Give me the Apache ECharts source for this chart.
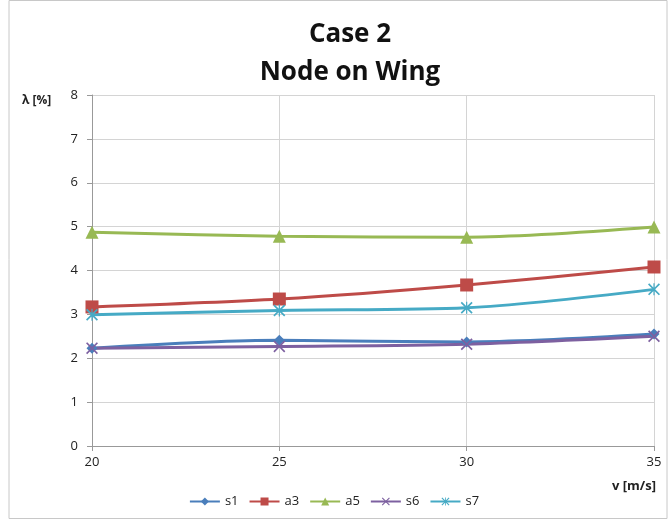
<!DOCTYPE html>
<html>
<head>
<meta charset="utf-8">
<script src="https://cdn.jsdelivr.net/npm/echarts@6/dist/echarts.min.js"></script>
<style>
  html, body { margin: 0; padding: 0; background: #fff; }
  #main { width: 668px; height: 524px; }
</style>
</head>
<body>
<div id="main"></div>
<script>
// data
var speeds = [20, 25, 30, 35];
var s1 = [2.23, 2.41, 2.37, 2.55];
var a3 = [3.17, 3.35, 3.67, 4.08];
var a5 = [4.87, 4.78, 4.76, 4.99];
var s6 = [2.23, 2.27, 2.32, 2.50];
var s7 = [2.99, 3.09, 3.15, 3.57];
var seriesNames = ['s1', 'a3', 'a5', 's6', 's7'];

var xMark = 'path://M1,0L5,4L9,0L10,1L6,5L10,9L9,10L5,6L1,10L0,9L4,5L0,1Z';
var starMark = 'path://M1,0L5,4L9,0L10,1L6,5L10,9L9,10L5,6L1,10L0,9L4,5L0,1Z M4.5,0L5.5,0L5.5,10L4.5,10Z';

function pairs(vals) {
  return speeds.map(function (v, i) { return [v, vals[i]]; });
}

function mk(name, vals, color, symbol, size) {
  return {
    name: name,
    type: 'line',
    smooth: 0.3,
    data: pairs(vals),
    symbol: symbol,
    symbolSize: size,
    showSymbol: true,
    lineStyle: { color: color, width: 3 },
    itemStyle: { color: color },
    emphasis: { disabled: true }
  };
}

var chart = echarts.init(document.getElementById('main'));
var font = 'Open Sans, Liberation Sans, sans-serif';

var option = {
  animation: false,
  textStyle: { fontFamily: font },
  title: {
    text: 'Case 2\nNode on Wing',
    left: 345,
    textAlign: 'center',
    top: 11,
    textStyle: { fontSize: 26, fontWeight: 'bold', color: '#111', lineHeight: 38, fontFamily: font }
  },
  legend: {
    bottom: 11,
    left: 'center',
    itemWidth: 30,
    itemHeight: 10,
    itemGap: 10,
    textStyle: { fontSize: 13, color: '#222' },
    data: seriesNames
  },
  grid: { left: 92, right: 14, top: 95, bottom: 78 },
  xAxis: {
    type: 'value',
    min: 20, max: 35, interval: 5,
    axisLine: { lineStyle: { color: '#999' } },
    axisTick: { show: true, length: 5, lineStyle: { color: '#999' } },
    axisLabel: { color: '#222', fontSize: 13, margin: 10 },
    splitLine: { show: true, lineStyle: { color: '#d4d4d4' } }
  },
  yAxis: {
    type: 'value',
    min: 0, max: 8, interval: 1,
    axisLine: { show: true, lineStyle: { color: '#999' } },
    axisTick: { show: true, length: 5, lineStyle: { color: '#999' } },
    axisLabel: { color: '#222', fontSize: 13, margin: 14 },
    splitLine: { show: true, lineStyle: { color: '#d4d4d4' } }
  },
  graphic: [
    { type: 'rect', shape: { x: 9, y: 0.5, width: 658, height: 518 },
      style: { fill: 'none', stroke: '#c8c8c8', lineWidth: 1 }, silent: true },
    { type: 'text', left: 22, top: 95,
      style: { text: 'λ [%]', font: 'bold 12px ' + font, fill: '#222' } },
    { type: 'text', right: 12, top: 480,
      style: { text: 'v [m/s]', font: 'bold 13px ' + font, fill: '#222' } }
  ],
  series: [
    mk('s1', s1, '#4a7ebb', 'diamond', 11),
    mk('a3', a3, '#be4b48', 'rect', 13),
    mk('a5', a5, '#98b954', 'triangle', 13),
    mk('s6', s6, '#7d60a0', xMark, 12),
    mk('s7', s7, '#46aac5', starMark, 12)
  ]
};

chart.setOption(option);
</script>
</body>
</html>
